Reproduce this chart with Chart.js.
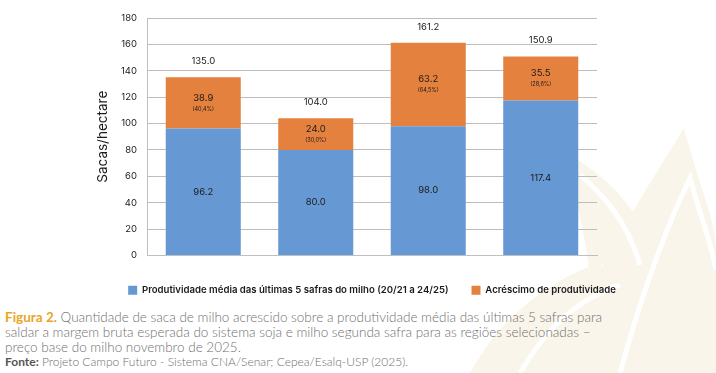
<!DOCTYPE html>
<html lang="pt">
<head>
  <meta charset="UTF-8">
  <title>Figura 2 - Sacas/hectare</title>
  <script src="https://cdn.jsdelivr.net/npm/chart.js"></script>
  <style>
    html, body {
      margin: 0;
      padding: 0;
      background: #ffffff;
    }
    .page {
      position: relative;
      width: 716px;
      height: 373px;
      overflow: hidden;
    }
    .watermark {
      position: absolute;
      left: 0;
      top: 0;
    }
    .chart-box {
      position: absolute;
      left: 0;
      top: 0;
      width: 716px;
      height: 305px;
    }
    .caption {
      position: absolute;
      left: 5px;
      top: 310px;
      width: 710px;
      font-family: "Lato", sans-serif;
      font-weight: 300;
      font-size: 13.5px;
      line-height: 15px;
      color: #6f6f6f;
    }
    .caption .fig {
      color: #eba51f;
      font-weight: 700;
    }
    .caption .src {
      font-size: 12px;
      line-height: 13px;
      margin-top: 0;
    }
    .caption .src b {
      color: #555;
      font-weight: 700;
    }
  </style>
</head>
<body>
<div class="page">
  <svg class="watermark" width="716" height="373" viewBox="0 0 716 373">
    <g fill="#f9f5ea">
      <path d="M560 373 C580 290 640 200 684 128 C700 190 716 220 716 250 L716 373 Z"/>
      <path d="M470 373 C500 320 540 285 600 262 C620 300 630 340 640 373 Z"/>
      <path d="M560 150 C600 170 630 200 650 240 C620 250 600 260 590 280 C585 230 575 190 560 150 Z"/>
    </g>
    <g fill="none" stroke="#ffffff" stroke-width="5">
      <path d="M620 373 C640 300 665 230 690 178 C700 215 712 245 716 270"/>
      <path d="M520 373 C545 330 575 300 620 285"/>
      <path d="M580 175 C610 200 630 230 640 265"/>
    </g>
  </svg>

  <div class="chart-box">
    <canvas id="yieldChart"></canvas>
  </div>

  <div class="caption">
    <span class="fig">Figura 2.</span> Quantidade de saca de milho acrescido sobre a produtividade média das últimas 5 safras para<br>
    saldar a margem bruta esperada do sistema soja e milho segunda safra para as regiões selecionadas –<br>
    preço base do milho novembro de 2025.
    <div class="src"><b>Fonte:</b> Projeto Campo Futuro - Sistema CNA/Senar; Cepea/Esalq-USP (2025).</div>
  </div>
</div>

<script>
  // values
  const regions = ['Cascavel/PR', 'Dourado/MS', 'Rio Verde/GO', 'Sorriso/MT'];
  const baseYield = [96.2, 80.0, 98.0, 117.4];
  const extraYield = [38.8, 24.0, 63.2, 33.5];
  const extraLabels = ['38.9', '24.0', '63.2', '35.5'];
  const extraShare = ['(40,4%)', '(30,0%)', '(64,5%)', '(28,6%)'];
  const totalLabels = ['135.0', '104.0', '161.2', '150.9'];
  const yTicks = [0, 20, 40, 60, 80, 100, 120, 140, 160, 180];

  const seriesNames = [
    'Produtividade média das últimas 5 safras do milho (20/21 a 24/25)',
    'Acréscimo de produtividade'
  ];

  const FONT = '"Inter", sans-serif';

  // draws the numbers inside / above the bars
  const barLabels = {
    id: 'barLabels',
    afterDatasetsDraw(chart) {
      const ctx = chart.ctx;
      const metaBase = chart.getDatasetMeta(0);
      const metaExtra = chart.getDatasetMeta(1);
      ctx.save();
      ctx.textAlign = 'center';
      ctx.textBaseline = 'middle';
      ctx.fillStyle = '#1a1a1a';

      metaBase.data.forEach((bar, i) => {
        const mid = (bar.y + bar.base) / 2;
        ctx.font = '400 9.5px ' + FONT;
        ctx.fillText(baseYield[i].toFixed(1), bar.x, mid);
      });

      metaExtra.data.forEach((bar, i) => {
        const mid = (bar.y + bar.base) / 2;
        ctx.font = '400 9.5px ' + FONT;
        ctx.fillText(extraLabels[i], bar.x, mid - 5);
        ctx.font = '400 5.5px ' + FONT;
        ctx.fillText(extraShare[i], bar.x, mid + 6);
        ctx.font = '400 9.5px ' + FONT;
        ctx.fillText(totalLabels[i], bar.x, bar.y - 16);
      });
      ctx.restore();
    }
  };

  const ctx = document.getElementById('yieldChart').getContext('2d');
  new Chart(ctx, {
    type: 'bar',
    data: {
      labels: regions,
      datasets: [
        {
          label: seriesNames[0],
          data: baseYield,
          backgroundColor: '#6699d3',
          barPercentage: 0.667,
          categoryPercentage: 1.0
        },
        {
          label: seriesNames[1],
          data: extraYield,
          backgroundColor: '#e4813e',
          barPercentage: 0.667,
          categoryPercentage: 1.0
        }
      ]
    },
    options: {
      responsive: true,
      maintainAspectRatio: false,
      animation: false,
      layout: {
        padding: { top: 18, left: 95, right: 67, bottom: 0 }
      },
      plugins: {
        legend: {
          position: 'bottom',
          labels: {
            boxWidth: 9,
            boxHeight: 9,
            padding: 23,
            color: '#1a1a1a',
            font: { family: FONT, size: 9.6, weight: '600' }
          }
        },
        tooltip: { enabled: false }
      },
      scales: {
        x: {
          stacked: true,
          grid: { display: false },
          border: { color: '#bfbfbf' },
          ticks: {
            color: '#1a1a1a',
            padding: 9,
            font: { family: FONT, size: 9 }
          },
          // legend sits right under the category labels
          afterFit(scale) { scale.height = 7; }
        },
        y: {
          stacked: true,
          min: 0,
          max: 180,
          afterBuildTicks(scale) {
            scale.ticks = yTicks.map(v => ({ value: v }));
          },
          afterFit(scale) { scale.width = 52; },
          grid: { color: '#bdbdbd', drawTicks: false },
          border: { color: '#bfbfbf' },
          ticks: {
            color: '#1a1a1a',
            padding: 10,
            font: { family: FONT, size: 9.5 }
          },
          title: {
            display: true,
            text: 'Sacas/hectare',
            color: '#1a1a1a',
            padding: { top: 0, bottom: 0 },
            font: { family: FONT, size: 13.5 }
          }
        },
        // empty spacer so the legend centres under the plot
        spacer: {
          type: 'linear',
          position: 'right',
          min: 0,
          max: 1,
          grid: { display: false },
          border: { display: false },
          ticks: { display: false },
          afterFit(scale) { scale.width = 52; }
        }
      }
    },
    plugins: [barLabels]
  });
</script>
</body>
</html>
